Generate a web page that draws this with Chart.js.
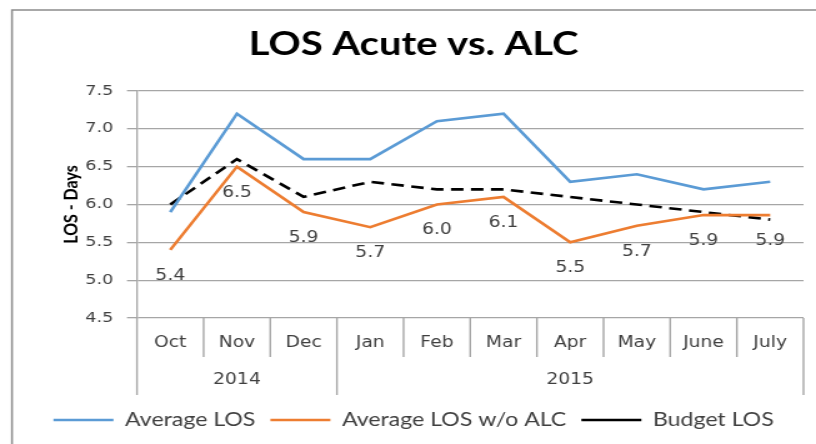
<!DOCTYPE html>
<html>
<head>
<meta charset="utf-8">
<script src="https://cdn.jsdelivr.net/npm/chart.js@4/dist/chart.umd.min.js"></script>
<style>
  html, body { margin: 0; padding: 0; background: #fff; }
  #losChart { display: block; }
</style>
</head>
<body>
<!-- the reference image is stretched sideways, so the canvas is drawn narrow and widened -->
<canvas id="losChart" width="653" height="444" style="width:816px;height:444px"></canvas>
<script>
const months = ['Oct', 'Nov', 'Dec', 'Jan', 'Feb', 'Mar', 'Apr', 'May', 'June', 'July'];
const years = ['2014', '2015'];
const yearSpans = [3, 7];
const avgLos = [5.9, 7.2, 6.6, 6.6, 7.1, 7.2, 6.3, 6.4, 6.2, 6.3];
const avgLosNoAlc = [5.4, 6.5, 5.9, 5.7, 6.0, 6.1, 5.5, 5.72, 5.86, 5.86];
const budgetLos = [6.0, 6.6, 6.1, 6.3, 6.2, 6.2, 6.1, 6.0, 5.9, 5.8];
const yTicks = [4.5, 5.0, 5.5, 6.0, 6.5, 7.0, 7.5];

const gridGray = '#a6a6a6';
const textGray = '#404040';
const axisFont = 'DejaVu Sans';

// 1. frame round the whole chart (left + top edges visible)
const framePlugin = {
    id: 'frame',
    beforeDraw(chart) {
        const ctx = chart.ctx;
        ctx.save();
        ctx.fillStyle = '#fff';
        ctx.fillRect(0, 0, chart.width, chart.height);
        ctx.strokeStyle = '#8c8c8c';
        ctx.lineWidth = 1.5;
        ctx.strokeRect(9.6, 10, chart.width + 20, chart.height + 20);
        ctx.restore();
    }
};

// 2. two-level category axis: separators + year row
const groupAxisPlugin = {
    id: 'groupAxis',
    afterDraw(chart) {
        const ctx = chart.ctx;
        const x = chart.scales.x;
        const top = chart.chartArea.bottom;
        const half = (x.getPixelForValue(1) - x.getPixelForValue(0)) / 2;
        const edge = i => i < months.length ? x.getPixelForValue(i) - half : x.getPixelForValue(months.length - 1) + half;

        const yearEdges = [0];
        yearSpans.forEach(n => yearEdges.push(yearEdges[yearEdges.length - 1] + n));

        ctx.save();
        ctx.strokeStyle = gridGray;
        ctx.lineWidth = 1.4;
        for (let i = 0; i <= months.length; i++) {
            const bottom = yearEdges.includes(i) ? top + 77 : top + 39;
            ctx.beginPath();
            ctx.moveTo(edge(i), top);
            ctx.lineTo(edge(i), bottom);
            ctx.stroke();
        }
        ctx.fillStyle = textGray;
        ctx.font = `15px "${axisFont}"`;
        ctx.textAlign = 'center';
        ctx.textBaseline = 'middle';
        years.forEach((yr, k) => {
            const cx = (edge(yearEdges[k]) + edge(yearEdges[k + 1])) / 2;
            ctx.fillText(yr, cx, top + 62);
        });
        ctx.restore();
    }
};

// 3. value labels under the orange series
const valueLabelPlugin = {
    id: 'valueLabels',
    afterDatasetsDraw(chart) {
        const ctx = chart.ctx;
        const meta = chart.getDatasetMeta(1);
        ctx.save();
        ctx.fillStyle = textGray;
        ctx.font = `15px "${axisFont}"`;
        ctx.textAlign = 'center';
        ctx.textBaseline = 'middle';
        meta.data.forEach((pt, i) => {
            ctx.fillText(avgLosNoAlc[i].toFixed(1), pt.x, pt.y + 26);
        });
        ctx.restore();
    }
};

new Chart(document.getElementById('losChart'), {
    type: 'line',
    data: {
        labels: months,
        datasets: [
            { label: 'Average LOS', data: avgLos, borderColor: '#5b9bd5', borderWidth: 2.6 },
            { label: 'Average LOS w/o ALC', data: avgLosNoAlc, borderColor: '#ed7d31', borderWidth: 2.6 },
            { label: 'Budget LOS', data: budgetLos, borderColor: '#000', borderWidth: 2.6, borderDash: [10, 6] }
        ]
    },
    options: {
        responsive: false,
        devicePixelRatio: 1,
        animation: false,
        layout: { padding: { left: 19, right: 10, top: 0, bottom: 4.75 } },
        elements: {
            point: { radius: 0 },
            line: { tension: 0, fill: false, borderCapStyle: 'butt' }
        },
        scales: {
            x: {
                offset: true,
                grid: { display: false, drawTicks: false },
                border: { display: false },
                ticks: {
                    autoSkip: false, maxRotation: 0, padding: 16,
                    color: textGray, font: { family: axisFont, size: 15 }
                },
                afterFit(scale) { scale.height = 80.75; }
            },
            y: {
                min: 4.5,
                max: 7.5,
                afterBuildTicks(scale) { scale.ticks = yTicks.map(v => ({ value: v })); },
                grid: { color: gridGray, lineWidth: 1.3, tickLength: 8 },
                border: { display: true, color: gridGray, width: 1.3 },
                ticks: {
                    padding: 11, color: textGray, font: { family: axisFont, size: 14 },
                    callback: v => Number(v).toFixed(1)
                },
                title: {
                    display: true, text: 'LOS - Days', color: '#000',
                    font: { family: 'Lato', size: 16, weight: 'bold' },
                    padding: { top: 28, bottom: 0 }
                },
                afterFit(scale) { scale.width = 90.6; }
            }
        },
        plugins: {
            title: {
                display: true,
                text: 'LOS Acute vs. ALC',
                color: '#000',
                font: { family: 'Lato', size: 32, weight: 'bold', lineHeight: 1.2 },
                padding: { top: 25, bottom: 27.6 }
            },
            legend: {
                position: 'bottom',
                labels: {
                    usePointStyle: true,
                    pointStyle: 'line',
                    pointStyleWidth: 48,
                    padding: 12,
                    color: textGray,
                    font: { family: 'Lato', size: 18.5 }
                }
            },
            tooltip: { enabled: false }
        }
    },
    plugins: [framePlugin, groupAxisPlugin, valueLabelPlugin]
});
</script>
</body>
</html>
